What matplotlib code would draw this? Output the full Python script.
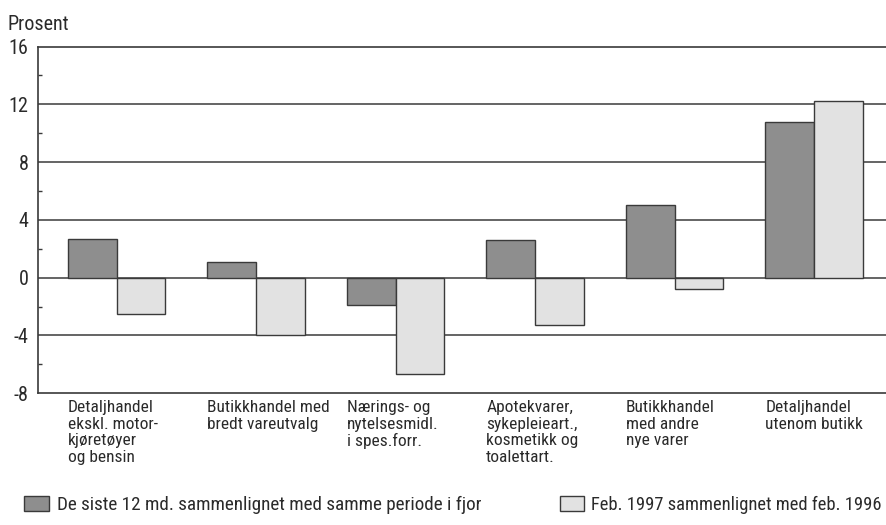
import numpy as np
import matplotlib.pyplot as plt
import matplotlib.transforms as mtransforms
from matplotlib.ticker import MultipleLocator

plt.rcParams["font.family"] = ["Roboto Condensed", "Liberation Sans Narrow",
                               "Liberation Sans", "DejaVu Sans"]
plt.rcParams["axes.unicode_minus"] = False

categories = [
    "Detaljhandel\nekskl. motor-\nkjøretøyer\nog bensin",
    "Butikkhandel med\nbredt vareutvalg",
    "Nærings- og\nnytelsesmidl.\ni spes.forr.",
    "Apotekvarer,\nsykepleieart.,\nkosmetikk og\ntoalettart.",
    "Butikkhandel\nmed andre\nnye varer",
    "Detaljhandel\nutenom butikk",
]
last_12_months = [2.7, 1.1, -1.9, 2.6, 5.0, 10.8]
feb_1997 = [-2.5, -4.0, -6.7, -3.3, -0.8, 12.2]
series_labels = [
    "De siste 12 md. sammenlignet med samme periode i fjor",
    "Feb. 1997 sammenlignet med feb. 1996",
]

DARK = "#8e8e8e"
LIGHT = "#e2e2e2"
EDGE = "#3a3a3a"
TEXT = "#2a2a2a"

fig = plt.figure(figsize=(8.86, 5.25), dpi=100)
ax = fig.add_axes([0.0429, 0.2509, 0.9571, 0.6605])

x = np.arange(len(categories))
w = 0.35

# gridlines first so bars sit on top
for yv in [-4, 0, 4, 8, 12]:
    ax.axhline(yv, color=EDGE, lw=1.1, zorder=1)

b1 = ax.bar(x - w / 2, last_12_months, w, color=DARK, edgecolor=EDGE,
            linewidth=1.0, zorder=2, label=series_labels[0])
b2 = ax.bar(x + w / 2, feb_1997, w, color=LIGHT, edgecolor=EDGE,
            linewidth=1.0, zorder=2, label=series_labels[1])

ax.set_xlim(-0.564, 5.516)
ax.set_ylim(-8, 16)

ax.yaxis.set_major_locator(MultipleLocator(4))
ax.yaxis.set_minor_locator(MultipleLocator(2))
ax.tick_params(axis="y", which="major", length=0, pad=7,
               labelsize=14.5, labelcolor=TEXT)
ax.tick_params(axis="y", which="minor", direction="in", length=3,
               width=1, color=EDGE)
ax.set_xticks([])

for side in ["top", "bottom", "left"]:
    ax.spines[side].set_color(EDGE)
    ax.spines[side].set_linewidth(1.2)
ax.spines["right"].set_visible(False)

fig.text(0.008, 0.935, "Prosent", fontsize=14.5, color=TEXT, va="bottom")

# category labels under the groups, left aligned with the dark bar
trans = mtransforms.blended_transform_factory(ax.transData, ax.transAxes)
for xi, label in zip(x, categories):
    ax.text(xi - w, -0.02, label, transform=trans, ha="left", va="top",
            fontsize=12.5, color=TEXT, linespacing=1.13)

# --------------------------------------------------
# Legend (two single entries so each can be placed)
# --------------------------------------------------

legend_kw = dict(loc="lower left", frameon=False,
                 handlelength=1.3, handleheight=0.85, handletextpad=0.4,
                 labelcolor=TEXT)
fig.legend([b1], [series_labels[0]], bbox_to_anchor=(0.008, -0.012),
           fontsize=13.8, **legend_kw)
fig.legend([b2], [series_labels[1]], bbox_to_anchor=(0.613, -0.011),
           fontsize=13.3, **legend_kw)

fig.savefig("out.png", dpi=100)
